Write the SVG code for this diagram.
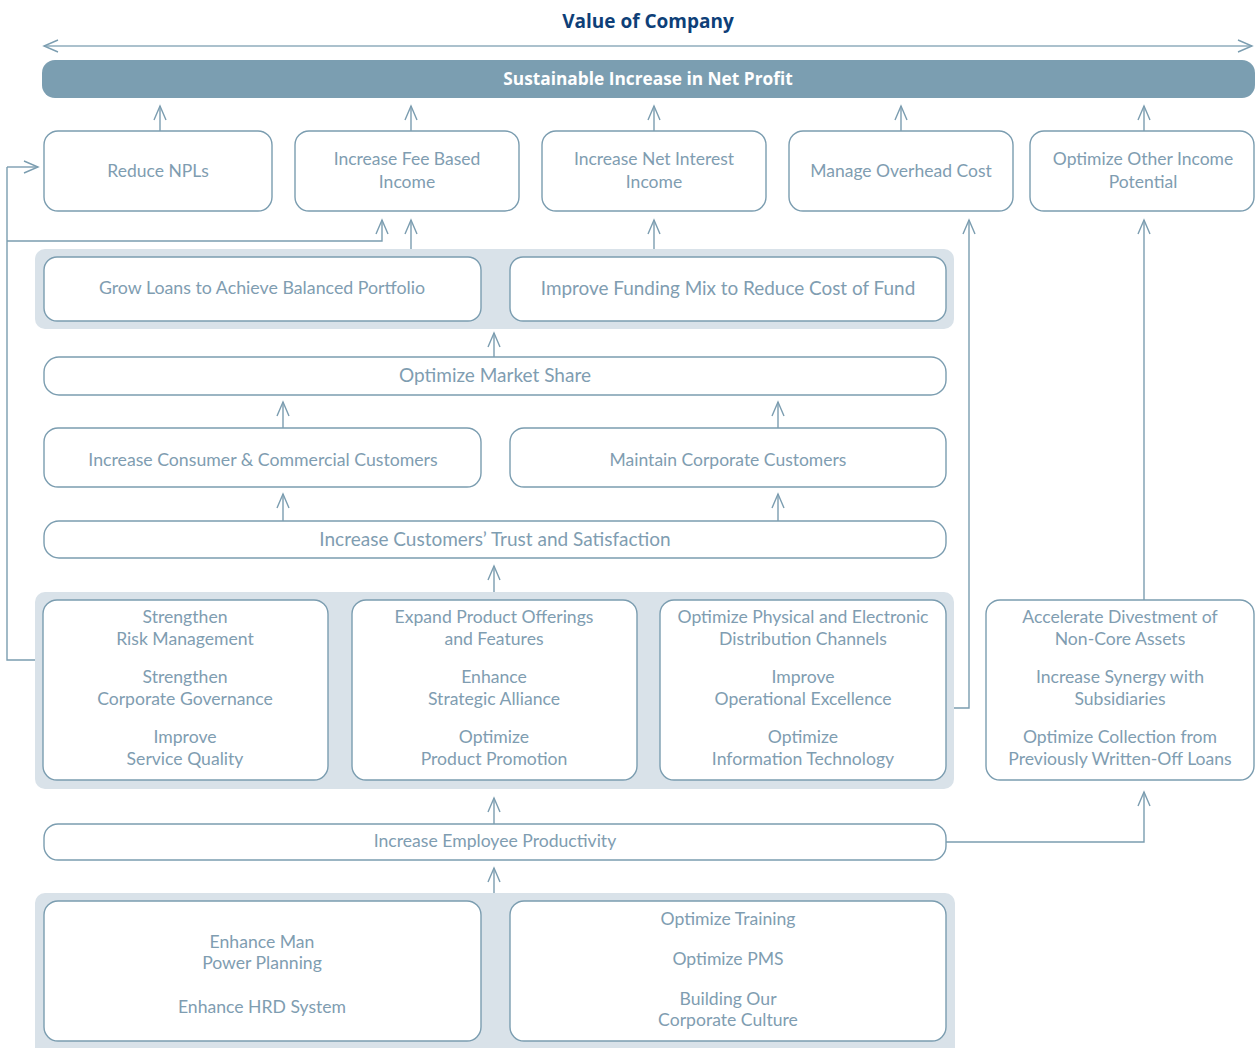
<svg xmlns="http://www.w3.org/2000/svg" width="1260" height="1048" viewBox="0 0 1260 1048">
<defs>
<marker id="ah" viewBox="-16 -8 18 16" markerWidth="18" markerHeight="16" refX="0" refY="0" orient="auto-start-reverse" markerUnits="userSpaceOnUse">
<path d="M-14,-6 L0,0 L-14,6" fill="none" stroke="#7b9db0" stroke-width="1.4"/>
</marker>
</defs>
<style>
.bx{fill:#fff;stroke:#7b9db0;stroke-width:1.4}
.grp{fill:#d9e2e9}
.t{font-family:Lato,"Open Sans",sans-serif;font-size:17.5px;fill:#7f9db1;text-anchor:middle}
.c{font-family:Lato,"Open Sans",sans-serif;font-size:17.6px;fill:#7f9db1;text-anchor:middle}
.ln{fill:none;stroke:#7b9db0;stroke-width:1.4}
.ar{fill:none;stroke:#7b9db0;stroke-width:1.4;marker-end:url(#ah)}
</style>
<rect width="1260" height="1048" fill="#fff"/>

<g id="title">
<text x="648" y="28" style="font-family:'Open Sans',sans-serif;font-weight:bold;font-size:19px;fill:#0e3f78;text-anchor:middle">Value of Company</text>
</g>

<g id="connectors">
<path d="M44,46 H1252" style="fill:none;stroke:#8fadbd;stroke-width:1.4;marker-start:url(#ah);marker-end:url(#ah)"/>
<path class="ar" d="M160,131 V106"/>
<path class="ar" d="M411,131 V106"/>
<path class="ar" d="M654,131 V106"/>
<path class="ar" d="M901,131 V106"/>
<path class="ar" d="M1144,131 V106"/>
<path class="ln" d="M35,660 H7 V167"/>
<path class="ar" d="M7,167 H38"/>
<path class="ar" d="M7,241 H382 V220"/>
<path class="ar" d="M411,249 V220"/>
<path class="ar" d="M654,249 V220"/>
<path class="ar" d="M494,357 V333"/>
<path class="ar" d="M283,428 V402"/>
<path class="ar" d="M778,428 V402"/>
<path class="ar" d="M283,521 V494"/>
<path class="ar" d="M778,521 V494"/>
<path class="ar" d="M494,592 V566"/>
<path class="ar" d="M954,708 H969 V220"/>
<path class="ar" d="M1144,600 V220"/>
<path class="ar" d="M494,824 V798"/>
<path class="ar" d="M946,842 H1144 V792"/>
<path class="ar" d="M494,893 V868"/>
</g>

<g id="net-profit">
<rect x="42" y="60" width="1213" height="38" rx="13" fill="#7b9eb1"/>
<text x="648" y="85" style="font-family:'Open Sans',sans-serif;font-weight:bold;font-size:17.3px;fill:#fff;text-anchor:middle">Sustainable Increase in Net Profit</text>
</g>

<g id="reduce-npls">
<rect class="bx" x="44" y="131" width="228" height="80" rx="14"/>
<text class="t" x="158" y="177">Reduce NPLs</text>
</g>
<g id="fee-income">
<rect class="bx" x="295" y="131" width="224" height="80" rx="14"/>
<text class="t" x="407" y="165">Increase Fee Based</text>
<text class="t" x="407" y="188">Income</text>
</g>
<g id="net-interest">
<rect class="bx" x="542" y="131" width="224" height="80" rx="14"/>
<text class="t" x="654" y="165">Increase Net Interest</text>
<text class="t" x="654" y="188">Income</text>
</g>
<g id="overhead">
<rect class="bx" x="789" y="131" width="224" height="80" rx="14"/>
<text class="t" x="901" y="177">Manage Overhead Cost</text>
</g>
<g id="other-income">
<rect class="bx" x="1030" y="131" width="224" height="80" rx="14"/>
<text class="t" x="1143" y="165">Optimize Other Income</text>
<text class="t" x="1143" y="188">Potential</text>
</g>

<g id="group-loans-funding">
<rect class="grp" x="35" y="249" width="919" height="80" rx="10"/>
<g id="grow-loans">
<rect class="bx" x="44" y="257" width="437" height="64" rx="13"/>
<text class="t" x="262" y="294" style="font-size:17.8px">Grow Loans to Achieve Balanced Portfolio</text>
</g>
<g id="funding-mix">
<rect class="bx" x="510" y="257" width="436" height="64" rx="13"/>
<text class="t" x="728" y="295" style="font-size:18.9px">Improve Funding Mix to Reduce Cost of Fund</text>
</g>
</g>

<g id="market-share">
<rect class="bx" x="44" y="357" width="902" height="38" rx="15"/>
<text class="t" x="495" y="382" style="font-size:19px">Optimize Market Share</text>
</g>
<g id="consumer">
<rect class="bx" x="44" y="428" width="437" height="59" rx="14"/>
<text class="t" x="263" y="466" style="font-size:17.7px">Increase Consumer &amp; Commercial Customers</text>
</g>
<g id="corporate">
<rect class="bx" x="510" y="428" width="436" height="59" rx="14"/>
<text class="t" x="728" y="466">Maintain Corporate Customers</text>
</g>
<g id="trust">
<rect class="bx" x="44" y="521" width="902" height="37" rx="15"/>
<text class="t" x="495" y="546" style="font-size:19px">Increase Customers’ Trust and Satisfaction</text>
</g>

<g id="group-internal">
<rect class="grp" x="35" y="592" width="919" height="197" rx="10"/>
<g id="risk">
<rect class="bx" x="43" y="600" width="285" height="180" rx="14"/>
<text class="c" x="185" y="623">Strengthen</text>
<text class="c" x="185" y="645">Risk Management</text>
<text class="c" x="185" y="683">Strengthen</text>
<text class="c" x="185" y="705">Corporate Governance</text>
<text class="c" x="185" y="743">Improve</text>
<text class="c" x="185" y="765">Service Quality</text>
</g>
<g id="product">
<rect class="bx" x="352" y="600" width="285" height="180" rx="14"/>
<text class="c" x="494" y="623">Expand Product Offerings</text>
<text class="c" x="494" y="645">and Features</text>
<text class="c" x="494" y="683">Enhance</text>
<text class="c" x="494" y="705">Strategic Alliance</text>
<text class="c" x="494" y="743">Optimize</text>
<text class="c" x="494" y="765">Product Promotion</text>
</g>
<g id="channels">
<rect class="bx" x="660" y="600" width="286" height="180" rx="14"/>
<text class="c" x="803" y="623">Optimize Physical and Electronic</text>
<text class="c" x="803" y="645">Distribution Channels</text>
<text class="c" x="803" y="683">Improve</text>
<text class="c" x="803" y="705">Operational Excellence</text>
<text class="c" x="803" y="743">Optimize</text>
<text class="c" x="803" y="765">Information Technology</text>
</g>
</g>

<g id="divestment">
<rect class="bx" x="986" y="600" width="268" height="180" rx="14"/>
<text class="c" x="1120" y="623">Accelerate Divestment of</text>
<text class="c" x="1120" y="645">Non-Core Assets</text>
<text class="c" x="1120" y="683">Increase Synergy with</text>
<text class="c" x="1120" y="705">Subsidiaries</text>
<text class="c" x="1120" y="743">Optimize Collection from</text>
<text class="c" x="1120" y="765">Previously Written-Off Loans</text>
</g>

<g id="employee">
<rect class="bx" x="44" y="824" width="902" height="36" rx="14"/>
<text class="c" x="495" y="847">Increase Employee Productivity</text>
</g>

<g id="group-hr">
<rect class="grp" x="35" y="893" width="920" height="165" rx="10"/>
<g id="manpower">
<rect class="bx" x="44" y="901" width="437" height="140" rx="14"/>
<text class="c" x="262" y="948">Enhance Man</text>
<text class="c" x="262" y="969">Power Planning</text>
<text class="c" x="262" y="1013">Enhance HRD System</text>
</g>
<g id="training">
<rect class="bx" x="510" y="901" width="436" height="140" rx="14"/>
<text class="c" x="728" y="925">Optimize Training</text>
<text class="c" x="728" y="965">Optimize PMS</text>
<text class="c" x="728" y="1005">Building Our</text>
<text class="c" x="728" y="1026">Corporate Culture</text>
</g>
</g>
</svg>
